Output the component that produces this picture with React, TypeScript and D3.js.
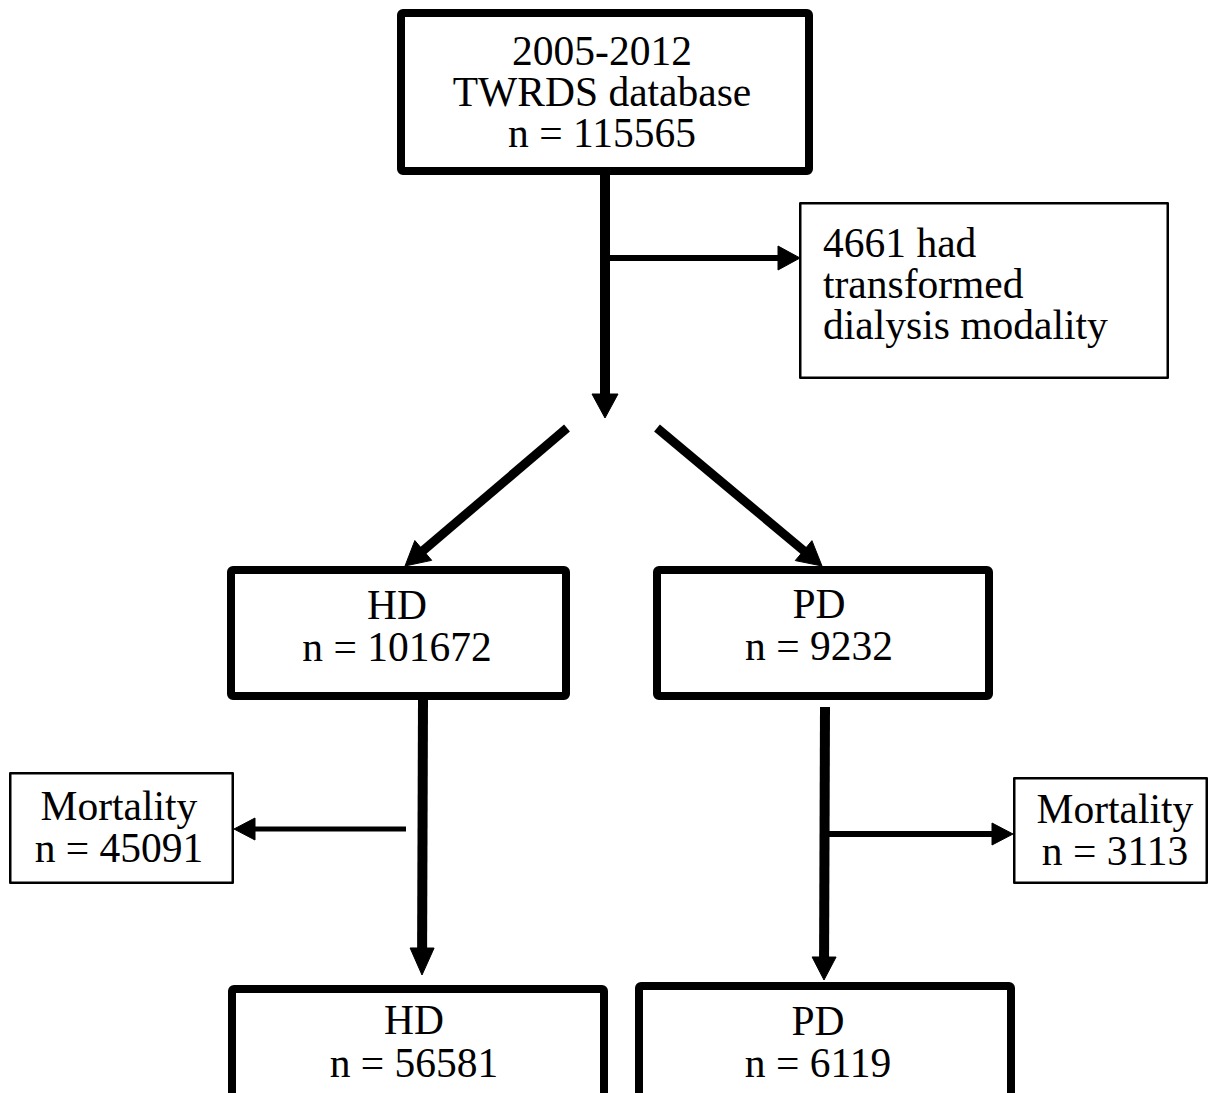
import { line } from "d3";

// flow chart content
const nodeIds = ["source", "excluded", "hd", "pd", "hdDeath", "pdDeath", "hdFinal", "pdFinal"];
const nodeLabels = [
  ["2005-2012", "TWRDS database"],
  ["4661 had", "transformed", "dialysis modality"],
  ["HD"],
  ["PD"],
  ["Mortality"],
  ["Mortality"],
  ["HD"],
  ["PD"],
];
const nodeCounts = [115565, null, 101672, 9232, 45091, 3113, 56581, 6119];

const linkIds = ["trunk", "exclude", "toHd", "toPd", "hdStem", "hdDeath", "pdStem", "pdDeath"];

type Box = {
  box: [number, number, number, number]; // outer x0, y0, x1, y1
  stroke: number;
  anchor: "start" | "middle";
  tx: number;
  baselines: number[];
};

const boxLayout: Record<string, Box> = {
  source: { box: [397, 9, 813, 175], stroke: 8, anchor: "middle", tx: 602, baselines: [65, 106, 147] },
  excluded: { box: [799, 202, 1169, 379], stroke: 2.5, anchor: "start", tx: 823, baselines: [257, 298, 339] },
  hd: { box: [227, 566, 570, 700], stroke: 8, anchor: "middle", tx: 397, baselines: [619, 661] },
  pd: { box: [653, 566, 993, 700], stroke: 8, anchor: "middle", tx: 819, baselines: [618, 660] },
  hdDeath: { box: [9, 772, 234, 884], stroke: 2.5, anchor: "middle", tx: 119, baselines: [820, 862] },
  pdDeath: { box: [1013, 777, 1208, 884], stroke: 2.5, anchor: "middle", tx: 1115, baselines: [823, 865] },
  hdFinal: { box: [228, 985, 608, 1110], stroke: 8, anchor: "middle", tx: 414, baselines: [1034, 1077] },
  pdFinal: { box: [635, 982, 1015, 1110], stroke: 8, anchor: "middle", tx: 818, baselines: [1035, 1077] },
};

type Link = {
  from: [number, number];
  to: [number, number];
  width: number;
  headLen: number;
  headHalf: number;
};

const linkLayout: Record<string, Link> = {
  trunk: { from: [605, 171], to: [605, 418], width: 10, headLen: 24, headHalf: 13 },
  exclude: { from: [605, 258], to: [800, 258], width: 6, headLen: 22, headHalf: 12 },
  toHd: { from: [567, 428], to: [405, 566], width: 9, headLen: 24, headHalf: 13 },
  toPd: { from: [657, 428], to: [822, 566], width: 9, headLen: 24, headHalf: 13 },
  hdStem: { from: [423, 700], to: [422, 975], width: 10, headLen: 27, headHalf: 12 },
  hdDeath: { from: [406, 829], to: [234, 829], width: 5, headLen: 21, headHalf: 11 },
  pdStem: { from: [825, 707], to: [824, 980], width: 10, headLen: 23, headHalf: 12 },
  pdDeath: { from: [825, 834], to: [1013, 834], width: 6, headLen: 21, headHalf: 11 },
};

const width = 1209;
const height = 1093;
const fontFamily = "'Liberation Serif', 'Times New Roman', serif";

const path = line<[number, number]>();

function arrowParts(l: Link) {
  const [x0, y0] = l.from;
  const [x1, y1] = l.to;
  const len = Math.hypot(x1 - x0, y1 - y0);
  const ux = (x1 - x0) / len;
  const uy = (y1 - y0) / len;
  const bx = x1 - ux * l.headLen;
  const by = y1 - uy * l.headLen;
  const px = -uy * l.headHalf;
  const py = ux * l.headHalf;
  const shaft = path([l.from, [bx + ux * 2, by + uy * 2]]) ?? "";
  const head =
    (path([
      [x1, y1],
      [bx + px, by + py],
      [bx - px, by - py],
    ]) ?? "") + "Z";
  return { shaft, head };
}

export default function App() {
  return (
    <svg
      width={width}
      height={height}
      viewBox={`0 0 ${width} ${height}`}
      style={{ position: "absolute", left: 0, top: 0, background: "#fff" }}
    >
      <rect width={width} height={height} fill="#fff" />
      {nodeIds.map((id, i) => {
        const b = boxLayout[id];
        const [x0, y0, x1, y1] = b.box;
        const s = b.stroke;
        const lines = nodeCounts[i] == null ? nodeLabels[i] : [...nodeLabels[i], `n = ${nodeCounts[i]}`];
        return (
          <g key={id}>
            <rect
              x={x0 + s / 2}
              y={y0 + s / 2}
              width={x1 - x0 - s}
              height={y1 - y0 - s}
              rx={s > 3 ? 2 : 0}
              fill="#fff"
              stroke="#000"
              strokeWidth={s}
              strokeLinejoin="round"
            />
            {lines.map((t, j) => (
              <text
                key={j}
                x={b.tx}
                y={b.baselines[j]}
                textAnchor={b.anchor}
                fontFamily={fontFamily}
                fontSize={41.5}
                fill="#000"
              >
                {t}
              </text>
            ))}
          </g>
        );
      })}
      {linkIds.map((id) => {
        const l = linkLayout[id];
        const { shaft, head } = arrowParts(l);
        return (
          <g key={id}>
            <path d={shaft} stroke="#000" strokeWidth={l.width} fill="none" />
            <path d={head} fill="#000" stroke="#000" strokeWidth={1} strokeLinejoin="round" />
          </g>
        );
      })}
    </svg>
  );
}
